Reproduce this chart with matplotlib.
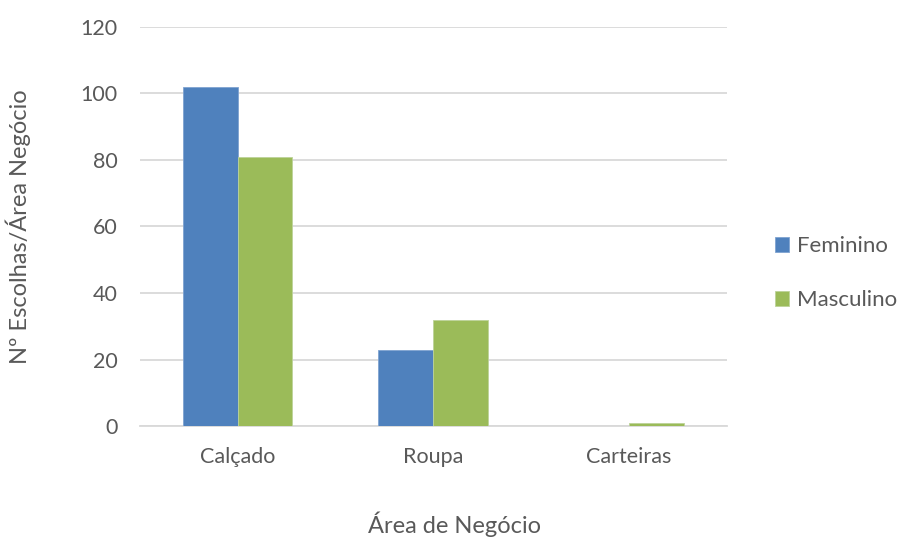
import numpy as np
import matplotlib.pyplot as plt

categorias = ['Calçado', 'Roupa', 'Carteiras']
feminino = [102, 23, 0]
masculino = [81, 32, 1]

plt.rcParams['font.family'] = ['Lato', 'DejaVu Sans']
cinza = '#595959'

fig = plt.figure(figsize=(8.97, 5.38), dpi=100)
ax = fig.add_axes([0.156, 0.208, 0.654, 0.742])

x = np.arange(len(categorias))
w = 0.28
ax.bar(x - w/2, feminino, w, color='#4F81BD', edgecolor='#7FA3D1', linewidth=0.6, label='Feminino', zorder=3)
ax.bar(x + w/2, masculino, w, color='#9BBB59', edgecolor='#BDD39A', linewidth=0.6, label='Masculino', zorder=3)

ax.set_xlim(-0.5, 2.5)
ax.set_ylim(0, 120)
ax.set_yticks(range(0, 121, 20))
ax.set_xticks(x)
ax.set_xticklabels(categorias)
ax.yaxis.grid(True, color='#d9d9d9', linewidth=1.3, zorder=0)
ax.set_axisbelow(True)
for s in ['top', 'right', 'left']:
    ax.spines[s].set_visible(False)
ax.spines['bottom'].set_color('#d9d9d9')
ax.spines['bottom'].set_linewidth(1.3)
ax.tick_params(length=0, labelsize=15.5, colors=cinza)
ax.tick_params(axis='y', pad=16)
ax.tick_params(axis='x', pad=15)

ax.set_xlabel('Área de Negócio', fontsize=17, color=cinza)
ax.xaxis.set_label_coords(0.537, -0.213)
ax.set_ylabel('Nº Escolhas/Área Negócio', fontsize=17, color=cinza, labelpad=36)

ax.legend(loc='center left', bbox_to_anchor=(1.048, 0.383), frameon=False,
          fontsize=16, labelcolor=cinza, handlelength=0.65, handleheight=0.65,
          handletextpad=0.35, labelspacing=1.55)

fig.savefig('out.png', dpi=100)
